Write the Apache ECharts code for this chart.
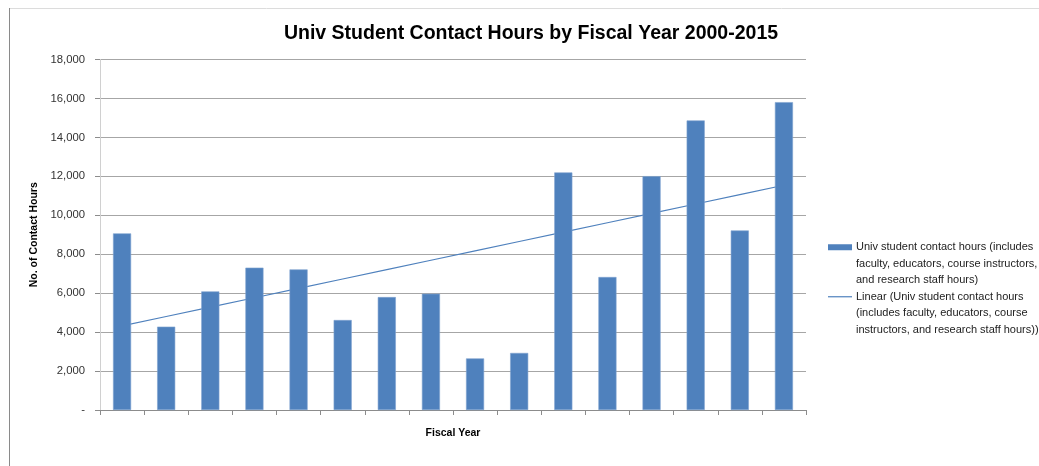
<!DOCTYPE html>
<html>
<head>
<meta charset="utf-8">
<script src="https://cdn.jsdelivr.net/npm/echarts@6/dist/echarts.min.js"></script>
<style>
html,body{margin:0;padding:0;background:#fff;}
#chart{width:1039px;height:466px;}
</style>
</head>
<body>
<div id="chart"></div>
<script>
const categories = ['FY2000','FY2001','FY2002','FY2003','FY2004','FY2005','FY2006','FY2007','FY2008','FY2009','FY2010','FY2011','FY2012','FY2013','FY2014','FY2015'];
const contactHours = [9070, 4280, 6090, 7310, 7220, 4620, 5800, 5970, 2650, 2930, 12200, 6830, 12010, 14870, 9220, 15810];
const yTicks = [0, 2000, 4000, 6000, 8000, 10000, 12000, 14000, 16000, 18000];
const barName = 'Univ student contact hours (includes faculty, educators, course instructors, and research staff hours)';
const trendName = 'Linear (Univ student contact hours (includes faculty, educators, course instructors, and research staff hours))';

// least-squares linear trend of the bar series (as Excel's linear trendline)
const n = contactHours.length;
let sx = 0, sy = 0, sxy = 0, sxx = 0;
contactHours.forEach((v, i) => { const x = i + 1; sx += x; sy += v; sxy += x * v; sxx += x * x; });
const slope = (n * sxy - sx * sy) / (n * sxx - sx * sx);
const intercept = (sy - slope * sx) / n;
const trend = contactHours.map((v, i) => intercept + slope * (i + 1));

const FONT = "'Liberation Sans',sans-serif";
const chart = echarts.init(document.getElementById('chart'));
chart.setOption({
  animation: false,
  backgroundColor: '#ffffff',
  title: {
    text: 'Univ Student Contact Hours by Fiscal Year 2000-2015',
    left: 526, top: 19, textAlign: 'center',
    textStyle: { fontFamily: FONT, fontWeight: 'bold', fontSize: 19.5, color: '#000' }
  },
  grid: { left: 100, right: 233, top: 59.5, bottom: 56, containLabel: false },
  legend: {
    orient: 'vertical', left: 818, top: 234, itemGap: 0,
    itemWidth: 0, itemHeight: 0, selectedMode: false,
    data: [{ name: barName, icon: 'none' }, { name: trendName, icon: 'none' }],
    formatter: function (name) {
      if (name === barName) {
        return '{sw|}{t|Univ student contact hours (includes}\n{ind|}{t|faculty, educators, course instructors,}\n{ind|}{t|and research staff hours)}';
      }
      return '{ln|}{t|Linear (Univ student contact hours}\n{ind|}{t|(includes faculty, educators, course}\n{ind|}{t|instructors, and research staff hours))}';
    },
    textStyle: {
      fontFamily: FONT, fontSize: 11, color: '#222', lineHeight: 16.5,
      rich: {
        sw: { width: 24, height: 6, backgroundColor: '#4F81BD' },
        ln: { width: 24, height: 1.2, backgroundColor: '#4F81BD' },
        ind: { width: 24 },
        t: { fontFamily: FONT, fontSize: 11, color: '#222', lineHeight: 16.5, padding: [0, 0, 0, 4] }
      }
    }
  },
  xAxis: {
    type: 'category', data: categories,
    name: 'Fiscal Year', nameLocation: 'middle', nameGap: 18,
    nameTextStyle: { fontFamily: FONT, fontWeight: 'bold', fontSize: 10.5, color: '#000' },
    axisLine: { lineStyle: { color: '#8c8c8c', width: 1 } },
    axisTick: { show: true, interval: 0, length: 5, lineStyle: { color: '#8c8c8c' } },
    axisLabel: { show: false, interval: 0 },
    splitLine: { show: false }
  },
  yAxis: {
    type: 'value', min: 0, max: 18000, interval: 2000,
    name: 'No. of Contact Hours', nameLocation: 'middle', nameGap: 58, nameRotate: 90,
    nameTextStyle: { fontFamily: FONT, fontWeight: 'bold', fontSize: 10.5, color: '#000' },
    axisLine: { show: true, lineStyle: { color: '#d0d0d0', width: 1 } },
    axisTick: { show: true, length: 5, lineStyle: { color: '#8c8c8c' } },
    axisLabel: {
      fontFamily: FONT, fontSize: 11.3, color: '#333', margin: 15,
      formatter: function (v) { return yTicks.indexOf(v) === 0 ? '-' : v.toLocaleString('en-US'); }
    },
    splitLine: { show: true, lineStyle: { color: '#a6a6a6', width: 1 } }
  },
  series: [
    {
      name: barName, type: 'bar', data: contactHours, z: 3,
      barCategoryGap: '59%',
      itemStyle: { color: '#4F81BD', borderColor: '#7fa3d0', borderWidth: 0.6 }
    },
    {
      name: trendName, type: 'line', data: trend, z: 2,
      showSymbol: false, symbol: 'none', silent: true,
      lineStyle: { color: '#4F81BD', width: 1.2 }
    }
  ],
  graphic: [
    { type: 'line', shape: { x1: 9, y1: 8.5, x2: 1039, y2: 8.5 }, style: { stroke: '#dcdcdc', lineWidth: 1 } },
    { type: 'line', shape: { x1: 9.5, y1: 8, x2: 9.5, y2: 466 }, style: { stroke: '#8a8a8a', lineWidth: 1 } }
  ]
});
</script>
</body>
</html>
